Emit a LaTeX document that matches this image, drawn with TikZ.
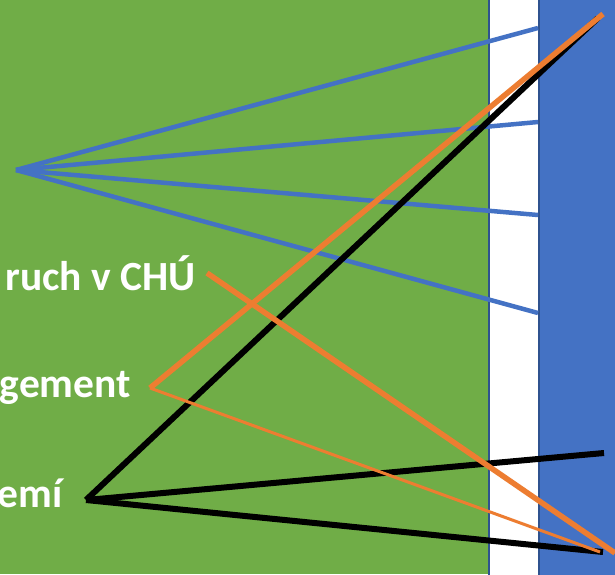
\documentclass[tikz,border=0pt]{standalone}
\usepackage{fontspec}
\setmainfont{Carlito}
\definecolor{bggreen}{HTML}{70AD47}
\definecolor{bgblue}{HTML}{4472C4}
\definecolor{edgeblue}{HTML}{2F528F}
\definecolor{lnorange}{HTML}{ED7D31}
\tikzset{
  lbl/.style={anchor=base east, text=white, font=\bfseries\fontsize{41.5}{45}\selectfont, inner sep=0pt},
  bluel/.style={draw=bgblue, line width=4.5pt},
  orthick/.style={draw=lnorange, line width=5.5pt},
  orthin/.style={draw=lnorange, line width=3pt},
  blk/.style={draw=black, line width=6pt},
}
\begin{document}
\begin{tikzpicture}[x=1pt,y=-1pt]
\useasboundingbox (0,0) rectangle (615,574);
\begin{scope}
\clip (0,0) rectangle (615,574);
\fill[bggreen] (0,0) rectangle (488,574);
\fill[white] (488,-5) rectangle (538,580);
\draw[edgeblue, line width=2pt] (489,-5) -- (489,580);
\fill[bgblue] (538,-5) rectangle (620,580);
\draw[edgeblue, line width=2pt] (538.5,-5) -- (538.5,580);

\node[lbl] (ruch) at (196,290) {ruch v CHÚ};
\node[lbl] (gem) at (131,397) {gement};
\node[lbl] (emi) at (63,507) {emí};

\coordinate (b0) at (16,170);
\coordinate (b1) at (538,28);
\coordinate (b2) at (538,122);
\coordinate (b3) at (538,215);
\coordinate (b4) at (538,313);
\coordinate (o0) at (207,273);
\coordinate (o1) at (150,388);
\coordinate (otop) at (603,14);
\coordinate (obot) at (615,553);
\coordinate (obot2) at (600,552);
\coordinate (k0) at (86,500);
\coordinate (ktop) at (598,18);
\coordinate (kmid) at (604,453);
\coordinate (kbot) at (603,552);

\foreach \e in {b1,b2,b3,b4} \draw[bluel] (b0) -- (\e);
\draw[blk] (k0) -- (ktop);
\draw[blk] (k0) -- (kmid);
\draw[blk] (k0) -- (kbot);
\draw[orthin] (o1) -- (obot2);
\draw[orthick] (otop) -- (o1);
\draw[orthick] (o0) -- (obot);
\end{scope}
\end{tikzpicture}
\end{document}
